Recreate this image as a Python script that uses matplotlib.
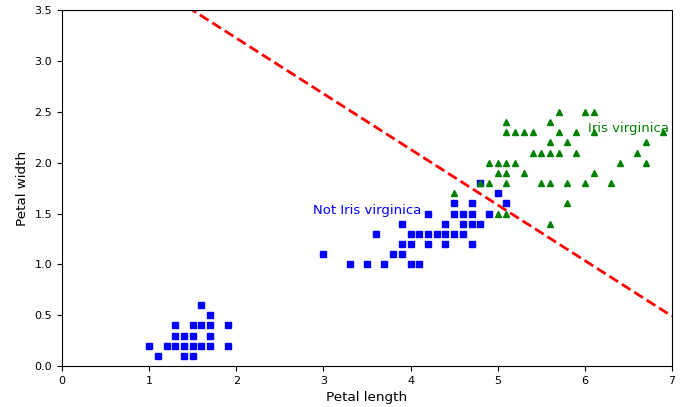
import matplotlib
matplotlib.use("Agg")
import matplotlib.pyplot as plt

# Not Iris virginica (blue squares)
neg_x = [1.1, 1.4, 1.5,
         1.0, 1.2, 1.3, 1.4, 1.5, 1.6, 1.7, 1.9,
         1.3, 1.4, 1.5, 1.7,
         1.3, 1.5, 1.6, 1.7, 1.9,
         1.7, 1.6,
         3.3, 3.5, 3.7, 4.0, 4.1,
         3.0, 3.8, 3.9,
         3.9, 4.0, 4.2, 4.4, 4.7,
         3.6, 4.0, 4.1, 4.2, 4.3, 4.4, 4.5, 4.6,
         3.9, 4.4, 4.6, 4.7, 4.8,
         4.2, 4.5, 4.6, 4.7, 4.9,
         4.5, 4.7, 5.1,
         5.0, 4.8]
neg_y = [0.1, 0.1, 0.1,
         0.2, 0.2, 0.2, 0.2, 0.2, 0.2, 0.2, 0.2,
         0.3, 0.3, 0.3, 0.3,
         0.4, 0.4, 0.4, 0.4, 0.4,
         0.5, 0.6,
         1.0, 1.0, 1.0, 1.0, 1.0,
         1.1, 1.1, 1.1,
         1.2, 1.2, 1.2, 1.2, 1.2,
         1.3, 1.3, 1.3, 1.3, 1.3, 1.3, 1.3, 1.3,
         1.4, 1.4, 1.4, 1.4, 1.4,
         1.5, 1.5, 1.5, 1.5, 1.5,
         1.6, 1.6, 1.6,
         1.7, 1.8]

# Iris virginica (green triangles)
pos_x = [5.6,
         5.0, 5.1,
         5.8,
         4.5,
         4.8, 4.9, 5.1, 5.5, 5.6, 5.8, 6.0, 6.3,
         5.0, 5.1, 5.3, 6.1,
         4.9, 5.0, 5.1, 5.2, 6.4, 6.7,
         5.4, 5.5, 5.6, 5.7, 5.9, 6.6,
         5.6, 5.8, 6.7,
         5.1, 5.2, 5.3, 5.4, 5.7, 5.9, 6.1, 6.9,
         5.1, 5.6,
         5.7, 6.0, 6.1]
pos_y = [1.4,
         1.5, 1.5,
         1.6,
         1.7,
         1.8, 1.8, 1.8, 1.8, 1.8, 1.8, 1.8, 1.8,
         1.9, 1.9, 1.9, 1.9,
         2.0, 2.0, 2.0, 2.0, 2.0, 2.0,
         2.1, 2.1, 2.1, 2.1, 2.1, 2.1,
         2.2, 2.2, 2.2,
         2.3, 2.3, 2.3, 2.3, 2.3, 2.3, 2.3, 2.3,
         2.4, 2.4,
         2.5, 2.5, 2.5]

# Decision boundary endpoints
boundary_x = [0.0, 7.0]
boundary_y = [4.32, 0.49]

fig = plt.figure(figsize=(6.85, 4.07), dpi=100)
ax = fig.add_axes([0.0905, 0.1007, 0.8905, 0.8743])

ax.plot(neg_x, neg_y, "bs", markersize=5)
ax.plot(pos_x, pos_y, "g^", markersize=5)
ax.plot(boundary_x, boundary_y, "r--", linewidth=2)

ax.text(3.5, 1.5, "Not Iris virginica", fontsize=9.5, color="b", ha="center")
ax.text(6.5, 2.3, "Iris virginica", fontsize=9.5, color="g", ha="center")

ax.set_xlabel("Petal length", fontsize=9.7)
ax.set_ylabel("Petal width", fontsize=9.7)
ax.set_xlim(0, 7)
ax.set_ylim(0, 3.5)
ax.tick_params(labelsize=8)

fig.savefig("out.png", dpi=100)
